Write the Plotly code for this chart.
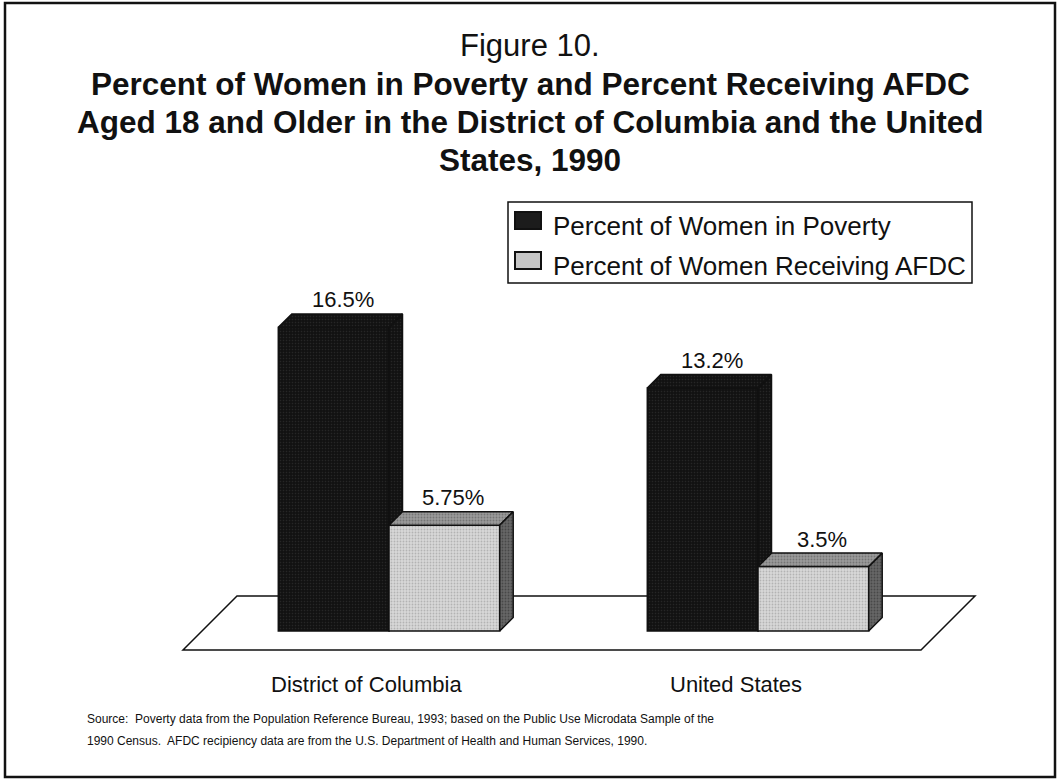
import plotly.graph_objects as go

# ---- data ----
categories = ["District of Columbia", "United States"]
series_names = ["Percent of Women in Poverty", "Percent of Women Receiving AFDC"]
poverty = [16.5, 13.2]
afdc = [5.75, 3.5]

# ---- page geometry ----
W, H = 1057, 779
PX_PER_X = 369.0      # pixels per category step
PX_PER_Y = 18.4       # pixels per percentage point
X_ORIGIN_PX = 389     # pixel column of the first category
Y_BASE_PX = 631       # pixel row of the 0% baseline

BAR_W = 0.3
DEPTH_PX = 13.5
DX = DEPTH_PX / PX_PER_X
DY = DEPTH_PX / PX_PER_Y

x_range = [-X_ORIGIN_PX / PX_PER_X, (W - X_ORIGIN_PX) / PX_PER_X]
y_range = [-(H - Y_BASE_PX) / PX_PER_Y, Y_BASE_PX / PX_PER_Y]

FONT = "Liberation Sans, Arial, Helvetica, sans-serif"
INK = "#111111"

DARK = "#161616"
LIGHT_FRONT = "#c6c6c6"
LIGHT_TOP = "#8a8a8a"
LIGHT_SIDE = "#555555"

DARK_PATTERN = dict(shape=".", bgcolor="#121212", fgcolor="#3a3a3a", size=3, solidity=0.2)
LIGHT_PATTERN = dict(shape=".", bgcolor="#d8d8d8", fgcolor="#8e8e8e", size=3, solidity=0.3)
TOP_PATTERN = dict(shape=".", bgcolor="#9a9a9a", fgcolor="#505050", size=3, solidity=0.3)
SIDE_PATTERN = dict(shape=".", bgcolor="#666666", fgcolor="#2a2a2a", size=3, solidity=0.3)


def px(x):
    return x / W


def py(y):
    return 1 - y / H


positions = list(range(len(categories)))


def top_face(x0, x1, h):
    return [x0, x0 + DX, x1 + DX, x1, x0], [h, h + DY, h + DY, h, h]


def side_face(x1, h):
    return [x1, x1, x1 + DX, x1 + DX, x1], [0, h, h + DY, DY, 0]


def faces_trace(xs, ys, color, pattern, xa, ya):
    return go.Scatter(
        x=xs, y=ys, mode="lines", fill="toself", fillcolor=color,
        fillpattern=pattern,
        line=dict(color=INK, width=1.5), hoverinfo="skip",
        showlegend=False, xaxis=xa, yaxis=ya,
    )


fig = go.Figure()

# poverty bars on the first axis pair
fig.add_trace(go.Bar(
    x=positions, y=poverty, width=BAR_W, offset=-BAR_W,
    name=series_names[0], showlegend=False,
    marker=dict(color=DARK, line=dict(color=INK, width=1.5), pattern=DARK_PATTERN),
    xaxis="x", yaxis="y",
))
px_list, py_list = [], []
for p, v in zip(positions, poverty):
    tx, ty = top_face(p - BAR_W, p, v)
    sx, sy = side_face(p, v)
    px_list += tx + [None] + sx + [None]
    py_list += ty + [None] + sy + [None]
fig.add_trace(faces_trace(px_list, py_list, DARK, DARK_PATTERN, "x", "y"))

# AFDC bars on an overlaid axis pair so they sit in front of the poverty bars
fig.add_trace(go.Bar(
    x=positions, y=afdc, width=BAR_W, offset=0,
    name=series_names[1], showlegend=False,
    marker=dict(color=LIGHT_FRONT, line=dict(color=INK, width=1.5), pattern=LIGHT_PATTERN),
    xaxis="x2", yaxis="y2",
))
tx_all, ty_all, sx_all, sy_all = [], [], [], []
for p, v in zip(positions, afdc):
    tx, ty = top_face(p, p + BAR_W, v)
    sx, sy = side_face(p + BAR_W, v)
    tx_all += tx + [None]
    ty_all += ty + [None]
    sx_all += sx + [None]
    sy_all += sy + [None]
fig.add_trace(faces_trace(tx_all, ty_all, LIGHT_TOP, TOP_PATTERN, "x2", "y2"))
fig.add_trace(faces_trace(sx_all, sy_all, LIGHT_SIDE, SIDE_PATTERN, "x2", "y2"))

annotations = []

# value labels above each bar
for offs, vals in ((-BAR_W / 2, poverty), (BAR_W / 2, afdc)):
    for p, v in zip(positions, vals):
        annotations.append(dict(
            x=p + offs, y=v + DY, xref="x", yref="y",
            text=f"{v:g}%", showarrow=False, xshift=9, yshift=14,
            yanchor="middle", xanchor="center",
            font=dict(family=FONT, size=22, color=INK),
        ))

# category labels under the floor
CAT_LABEL_SHIFT = -0.06
for p, c in zip(positions, categories):
    annotations.append(dict(
        x=p + CAT_LABEL_SHIFT, y=py(684), xref="x", yref="paper",
        text=c, showarrow=False, yanchor="middle", xanchor="center",
        font=dict(family=FONT, size=22, color=INK),
    ))

# title block
annotations.append(dict(
    x=px(530), y=py(45.5), xref="paper", yref="paper", text="Figure 10.",
    showarrow=False, yanchor="middle", xanchor="center",
    font=dict(family=FONT, size=31, color=INK),
))
title_lines = [
    "Percent of Women in Poverty and Percent Receiving AFDC",
    "Aged 18 and Older in the District of Columbia and the United",
    "States, 1990",
]
for i, line in enumerate(title_lines):
    annotations.append(dict(
        x=px(530), y=py(84 + 38 * i), xref="paper", yref="paper",
        text=f"<b>{line}</b>", showarrow=False, yanchor="middle", xanchor="center",
        font=dict(family=FONT, size=31.5, color=INK),
    ))

# legend
legend_rows = [226.5, 265.5]
for name, yc in zip(series_names, legend_rows):
    annotations.append(dict(
        x=px(551), y=py(yc), xref="paper", yref="paper", text=name,
        showarrow=False, yanchor="middle", xanchor="left",
        font=dict(family=FONT, size=26, color=INK),
    ))

# source note
source_lines = [
    "Source:  Poverty data from the Population Reference Bureau, 1993; based on the Public Use Microdata Sample of the",
    "1990 Census.  AFDC recipiency data are from the U.S. Department of Health and Human Services, 1990.",
]
for i, line in enumerate(source_lines):
    annotations.append(dict(
        x=px(85), y=py(719 + 22 * i), xref="paper", yref="paper", text=line,
        showarrow=False, yanchor="middle", xanchor="left",
        font=dict(family=FONT, size=12, color=INK),
    ))

shapes = []
# floor the bars stand on
FLOOR_FRONT_Y = -19 / PX_PER_Y
FLOOR_BACK_Y = 35 / PX_PER_Y
FLOOR_LEFT = -206 / PX_PER_X
FLOOR_RIGHT = 1 + 163 / PX_PER_X
FLOOR_SKEW = 54 / PX_PER_X
shapes.append(dict(
    type="path", xref="x", yref="y", layer="below",
    path=(f"M {FLOOR_LEFT} {FLOOR_FRONT_Y} L {FLOOR_RIGHT} {FLOOR_FRONT_Y} "
          f"L {FLOOR_RIGHT + FLOOR_SKEW} {FLOOR_BACK_Y} L {FLOOR_LEFT + FLOOR_SKEW} {FLOOR_BACK_Y} Z"),
    line=dict(color=INK, width=1.5), fillcolor="white",
))
# legend frame and swatches
shapes.append(dict(type="rect", xref="paper", yref="paper",
                   x0=px(508), x1=px(972), y0=py(283), y1=py(202),
                   line=dict(color=INK, width=1.5), fillcolor="rgba(0,0,0,0)"))
for (y0, y1), col in zip(((212, 229), (252, 269)), ("#1c1c1c", LIGHT_FRONT)):
    shapes.append(dict(type="rect", xref="paper", yref="paper",
                       x0=px(515), x1=px(541), y0=py(y1), y1=py(y0),
                       line=dict(color=INK, width=2), fillcolor=col))
# outer frame
shapes.append(dict(type="rect", xref="paper", yref="paper",
                   x0=px(5), x1=px(1055), y0=py(777), y1=py(3),
                   line=dict(color=INK, width=2.5), fillcolor="rgba(0,0,0,0)"))

axis_common = dict(visible=False, showgrid=False, zeroline=False, fixedrange=True)
fig.update_layout(
    width=W, height=H,
    margin=dict(l=0, r=0, t=0, b=0),
    paper_bgcolor="white", plot_bgcolor="white",
    barmode="overlay", showlegend=False,
    xaxis=dict(range=x_range, domain=[0, 1], **axis_common),
    yaxis=dict(range=y_range, domain=[0, 1], **axis_common),
    xaxis2=dict(range=x_range, overlaying="x", **axis_common),
    yaxis2=dict(range=y_range, overlaying="y", **axis_common),
    annotations=annotations,
    shapes=shapes,
)

fig.write_html("out.html")
